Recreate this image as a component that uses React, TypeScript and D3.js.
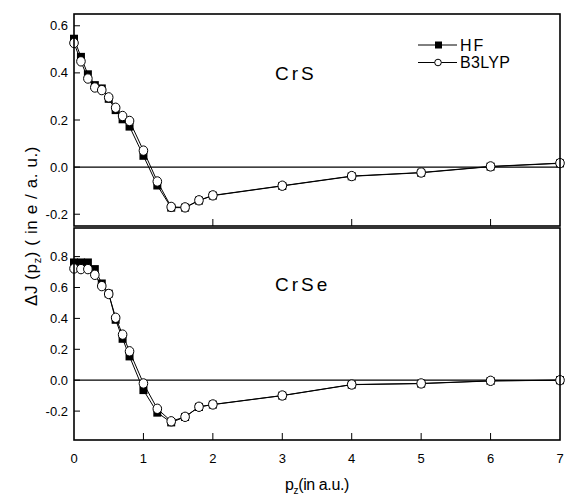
import React from 'react';
import * as d3 from 'd3';

// momentum values (a.u.)
const pz = [0, 0.1, 0.2, 0.3, 0.4, 0.5, 0.6, 0.7, 0.8, 1.0, 1.2, 1.4, 1.6, 1.8, 2.0, 3, 4, 5, 6, 7];

// CrS
const crsHF = [0.545, 0.468, 0.394, 0.348, 0.334, 0.29, 0.242, 0.203, 0.172, 0.048, -0.078, -0.172, -0.172, -0.142, -0.121, -0.08, -0.039, -0.024, 0.002, 0.016];
const crsB3 = [0.527, 0.449, 0.376, 0.338, 0.327, 0.296, 0.252, 0.217, 0.196, 0.07, -0.061, -0.169, -0.171, -0.141, -0.12, -0.079, -0.038, -0.023, 0.003, 0.017];

// CrSe
const crseHF = [0.762, 0.762, 0.762, 0.719, 0.626, 0.56, 0.391, 0.268, 0.154, -0.064, -0.21, -0.273, -0.238, -0.173, -0.158, -0.1, -0.029, -0.022, -0.005, 0.0];
const crseB3 = [0.723, 0.719, 0.719, 0.682, 0.609, 0.558, 0.404, 0.295, 0.187, -0.021, -0.185, -0.266, -0.237, -0.172, -0.157, -0.099, -0.028, -0.021, -0.004, 0.0];

const xTicks = [0, 1, 2, 3, 4, 5, 6, 7];
const topYTicks = [0.6, 0.4, 0.2, 0.0, -0.2];
const botYTicks = [0.8, 0.6, 0.4, 0.2, 0.0, -0.2];
const topInnerXTicks = [2, 4, 6];
const botInnerXTicks = [1, 2, 3, 4, 5, 6];

const W = 565;
const H = 504;
const L = 74;
const R = 560;
const font = '"Liberation Sans", Arial, sans-serif';

const x = d3.scaleLinear().domain([0, 7]).range([L, R]);

const Panel = ({ top, bottom, domain, yTicks, innerX, hf, b3, label, labelY, showXLabels }) => {
  const y = d3.scaleLinear().domain(domain).range([bottom, top]);
  const line = d3.line<number>().x((_, i) => x(pz[i])).y(d => y(d));
  return (
    <g>
      <line x1={L} x2={R} y1={y(0)} y2={y(0)} stroke="#000" strokeWidth={1.3} />
      <path d={line(hf) || ''} fill="none" stroke="#000" strokeWidth={1} />
      <path d={line(b3) || ''} fill="none" stroke="#000" strokeWidth={1} />
      {hf.map((v, i) => (
        <rect key={'s' + i} x={x(pz[i]) - 4} y={y(v) - 4} width={8} height={8} fill="#000" />
      ))}
      {b3.map((v, i) => (
        <ellipse key={'c' + i} cx={x(pz[i])} cy={y(v)} rx={4.3} ry={4.7} fill="#fff" stroke="#000" strokeWidth={1} />
      ))}
      <rect x={L} y={top} width={R - L} height={bottom - top} fill="none" stroke="#000" strokeWidth={1.6} />
      {yTicks.map(t => (
        <g key={t}>
          <line x1={L} x2={L + 6} y1={y(t)} y2={y(t)} stroke="#000" strokeWidth={1} />
          <text x={68} y={y(t)} dy="0.35em" textAnchor="end" fontSize={13} fontFamily={font}>
            {d3.format('.1f')(t).replace('−', '-')}
          </text>
        </g>
      ))}
      {innerX.map(t => (
        <line key={t} x1={x(t)} x2={x(t)} y1={bottom} y2={bottom - 7} stroke="#000" strokeWidth={1} />
      ))}
      {showXLabels && xTicks.map(t => (
        <text key={t} x={x(t)} y={463} textAnchor="middle" fontSize={13} fontFamily={font}>{t}</text>
      ))}
      <text x={275} y={labelY} fontSize={19} letterSpacing={3} fontFamily={font}>{label}</text>
    </g>
  );
};

export default function App() {
  return (
    <svg width={W} height={H} style={{ position: 'absolute', left: 0, top: 0, background: '#fff' }}>
      <Panel top={14} bottom={226} domain={[-0.25, 0.65]} yTicks={topYTicks} innerX={topInnerXTicks}
        hf={crsHF} b3={crsB3} label="CrS" labelY={80} showXLabels={false} />
      <Panel top={228} bottom={440} domain={[-0.387, 0.985]} yTicks={botYTicks} innerX={botInnerXTicks}
        hf={crseHF} b3={crseB3} label="CrSe" labelY={291} showXLabels={true} />

      {/* legend */}
      <g fontFamily={font} fontSize={16}>
        <line x1={418} x2={457} y1={45} y2={45} stroke="#000" strokeWidth={1} />
        <rect x={435} y={41.5} width={7} height={7} fill="#000" />
        <text x={460} y={45} dy="0.35em" letterSpacing={2}>HF</text>
        <line x1={418} x2={457} y1={62.5} y2={62.5} stroke="#000" strokeWidth={1} />
        <circle cx={438} cy={62.5} r={3.3} fill="#fff" stroke="#000" strokeWidth={1} />
        <text x={460} y={62.5} dy="0.35em" letterSpacing={0.3}>B3LYP</text>
      </g>

      {/* axis titles */}
      <text x={317} y={490} textAnchor="middle" fontSize={16} fontFamily={font} letterSpacing={-0.4}>
        p<tspan fontSize={10} dy={4}>z</tspan><tspan dy={-4}>(in a.u.)</tspan>
      </text>
      <text transform="translate(37,226) rotate(-90)" textAnchor="middle" fontSize={17} fontFamily={font} letterSpacing={0.6}>
        ΔJ (p<tspan fontSize={11} dy={4}>z</tspan><tspan dy={-4}>) ( in e / a. u.)</tspan>
      </text>
    </svg>
  );
}
